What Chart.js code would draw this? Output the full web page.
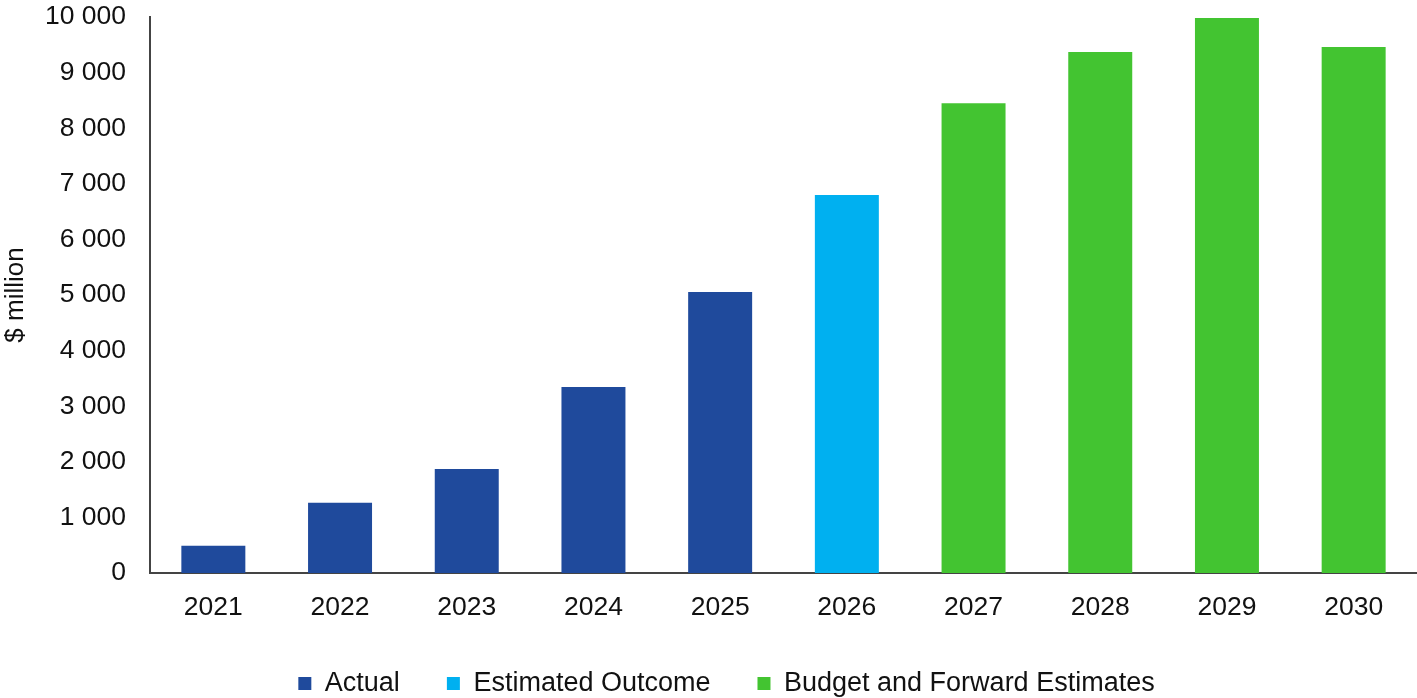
<!DOCTYPE html>
<html>
<head>
<meta charset="utf-8">
<script src="https://cdn.jsdelivr.net/npm/chart.js@4"></script>
<style>
  html, body { margin: 0; padding: 0; background: #ffffff; }
  #wrap { width: 1417px; height: 698px; }
</style>
</head>
<body>
<div id="wrap"><canvas id="grafico"></canvas></div>
<script>
// years and values ($ million)
var years = ['2021', '2022', '2023', '2024', '2025', '2026', '2027', '2028', '2029', '2030'];
var actual = [490, 1265, 1870, 3345, 5055, null, null, null, null, null];
var estimated = [null, null, null, null, null, 6800, null, null, null, null];
var budget = [null, null, null, null, null, null, 8450, 9370, 9980, 9460];
var yTicks = [0, 1000, 2000, 3000, 4000, 5000, 6000, 7000, 8000, 9000, 10000];

var fuente = "'Liberation Sans', Arial, sans-serif";

function formato(v) {
    return String(v).replace(/\B(?=(\d{3})+(?!\d))/g, ' ');
}

var ctx = document.getElementById('grafico');
var grafico = new Chart(ctx, {
    type: 'bar',
    data: {
        labels: years,
        datasets: [{
            label: 'Actual',
            data: actual,
            backgroundColor: '#1F4A9C'
        }, {
            label: 'Estimated Outcome',
            data: estimated,
            backgroundColor: '#00B0F0'
        }, {
            label: 'Budget and Forward Estimates',
            data: budget,
            backgroundColor: '#43C431'
        }]
    },
    options: {
        responsive: true,
        maintainAspectRatio: false,
        animation: false,
        datasets: {
            bar: { barPercentage: 0.505, categoryPercentage: 1.0 }
        },
        layout: { padding: { top: 17, right: 0, left: 0, bottom: 0 } },
        plugins: {
            tooltip: { enabled: false },
            legend: {
                display: true,
                position: 'bottom',
                labels: {
                    boxWidth: 13,
                    boxHeight: 13,
                    padding: 2,
                    color: '#111111',
                    font: { family: fuente, size: 27 },
                    // extra gap between items, like the original
                    generateLabels: function (chart) {
                        var items = Chart.defaults.plugins.legend.labels.generateLabels(chart);
                        items.forEach(function (it, i) {
                            if (i < items.length - 1) it.text = it.text + '      ';
                        });
                        return items;
                    }
                }
            }
        },
        scales: {
            x: {
                stacked: true,
                grid: { display: false, drawTicks: false },
                border: { display: true, color: '#444444', width: 2 },
                afterFit: function (scale) {
                    scale.height = 95;
                    scale.paddingLeft = 0;
                    scale.paddingRight = 0;
                },
                ticks: {
                    color: '#111111',
                    padding: 19,
                    font: { family: fuente, size: 26.5 }
                }
            },
            y: {
                stacked: true,
                min: 0,
                max: 10000,
                afterBuildTicks: function (scale) {
                    scale.ticks = yTicks.map(function (v) { return { value: v }; });
                },
                afterFit: function (scale) {
                    scale.width = 150;
                    scale.paddingTop = 0;
                    scale.paddingBottom = 0;
                },
                grid: { display: false, drawTicks: false },
                border: { display: true, color: '#444444', width: 2 },
                title: {
                    display: true,
                    text: '$ million',
                    color: '#111111',
                    font: { family: fuente, size: 26 },
                    padding: 0
                },
                ticks: {
                    color: '#111111',
                    padding: 24,
                    font: { family: fuente, size: 26.5 },
                    callback: function (v) { return formato(v); }
                }
            }
        }
    }
});

// legend a bit lower and a bit to the right, like the original
var fitLegend = grafico.legend.fit;
grafico.legend.fit = function () {
    fitLegend.call(this);
    this.height = 30;
    if (this.lineWidths && this.lineWidths.length) this.lineWidths[0] -= 36;
};
grafico.update();
</script>
</body>
</html>
